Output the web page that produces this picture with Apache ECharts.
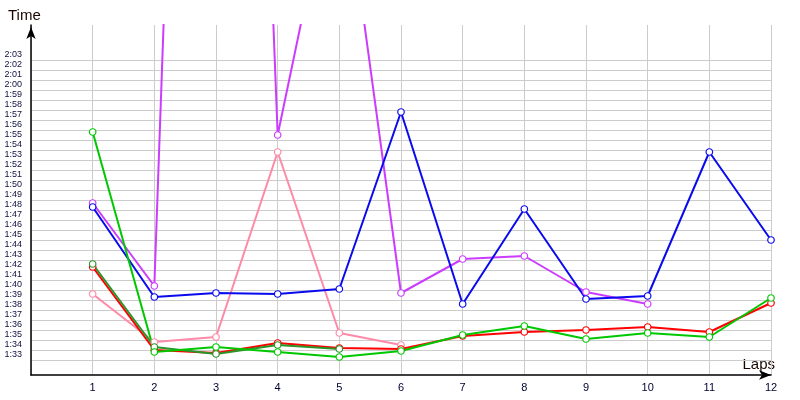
<!DOCTYPE html>
<html>
<head>
<meta charset="utf-8">
<script src="https://cdn.jsdelivr.net/npm/echarts@6/dist/echarts.min.js"></script>
<style>
  html, body { margin: 0; padding: 0; background: #fff; }
  #chart { width: 800px; height: 400px; }
</style>
</head>
<body>
<div id="chart"></div>
<script>
// lap numbers
var laps = [1, 2, 3, 4, 5, 6, 7, 8, 9, 10, 11, 12];
// lap times in seconds
var redTimes    = [102.3, 94.0, 93.7, 94.7, 94.2, 94.1, 95.4, 95.8, 96.0, 96.3, 95.8, 98.7];
var darkGreen   = [102.6, 94.3, 93.6, 94.5, 94.1];
var greenTimes  = [115.8, 93.8, 94.3, 93.8, 93.3, 93.9, 95.5, 96.4, 95.1, 95.7, 95.3, 99.2];
var blueTimes   = [108.3, 99.3, 99.7, 99.6, 100.1, 117.8, 98.6, 108.1, 99.1, 99.4, 113.8, 105.0];
var purpleTimes = [108.7, 100.4, 275, 115.5, 145, 99.7, 103.1, 103.4, 99.8, 98.6];
var pinkTimes   = [99.6, 94.8, 95.3, 113.8, 95.7, 94.5];
// y tick range (1:33 .. 2:03)
var tickMin = 93, tickMax = 123;

function fmtTime(v) {
    var m = Math.floor(v / 60), s = Math.round(v % 60);
    return m + ':' + (s < 10 ? '0' : '') + s;
}

function pairs(vals) {
    return vals.map(function (v, i) { return [laps[i], v]; });
}

function lapSeries(name, color, vals) {
    return {
        name: name,
        type: 'line',
        xAxisIndex: 0,
        yAxisIndex: 0,
        data: pairs(vals),
        symbol: 'circle',
        symbolSize: 6.5,
        clip: true,
        lineStyle: { color: color, width: 2 },
        itemStyle: { color: '#fff', borderColor: color, borderWidth: 1.2 },
        emphasis: { disabled: true },
        animation: false
    };
}

var chart = echarts.init(document.getElementById('chart'));

var option = {
    backgroundColor: '#fff',
    animation: false,
    textStyle: { fontFamily: 'Liberation Sans' },
    grid: [
        { left: 31, right: 29, top: 25, bottom: 25 },
        { left: 31, right: 29, top: 60, bottom: 40 }
    ],
    xAxis: [
        {
            type: 'value', gridIndex: 0, min: 0, max: 12, interval: 1,
            axisLine: { show: true, lineStyle: { color: '#000', width: 1.5 },
                        symbol: ['none', 'arrow'], symbolSize: [7, 12] },
            axisTick: { show: false },
            axisLabel: {
                color: '#000033', fontSize: 11, margin: 7,
                formatter: function (v) { return v === 0 ? '' : String(v); }
            },
            splitLine: { show: true, lineStyle: { color: '#cccccc', width: 1 } }
        },
        { type: 'value', gridIndex: 1, min: 0, max: 12, show: false }
    ],
    yAxis: [
        {
            type: 'value', gridIndex: 0, min: 91.5, max: 126.5,
            axisLine: { show: true, lineStyle: { color: '#000', width: 1.5 },
                        symbol: ['none', 'arrow'], symbolSize: [7, 12], symbolOffset: [0, -2] },
            axisTick: { show: false },
            axisLabel: { show: false },
            splitLine: { show: false }
        },
        {
            type: 'value', gridIndex: 1, min: tickMin, max: tickMax, interval: 1,
            axisLine: { show: false },
            axisTick: { show: false },
            axisLabel: {
                color: '#101040', fontSize: 9, margin: 9,
                verticalAlign: 'bottom', lineHeight: 10,
                formatter: fmtTime
            },
            splitLine: { show: true, lineStyle: { color: '#cccccc', width: 1 } }
        }
    ],
    graphic: [
        { type: 'text', left: 8, top: 8, style: { text: 'Time', fontSize: 15, fill: '#1a0800', fontFamily: 'Liberation Sans' } },
        { type: 'text', right: 25, top: 357, style: { text: 'Laps', fontSize: 15, fill: '#1a0800', fontFamily: 'Liberation Sans' } }
    ],
    series: [
        lapSeries('Pink', '#ff8aa8', pinkTimes),
        lapSeries('Purple', '#cc3cff', purpleTimes),
        lapSeries('Blue', '#0a0aee', blueTimes),
        lapSeries('Red', '#ff0000', redTimes),
        lapSeries('Dark green', '#2a962a', darkGreen),
        lapSeries('Green', '#00c800', greenTimes)
    ]
};

chart.setOption(option);
</script>
</body>
</html>
